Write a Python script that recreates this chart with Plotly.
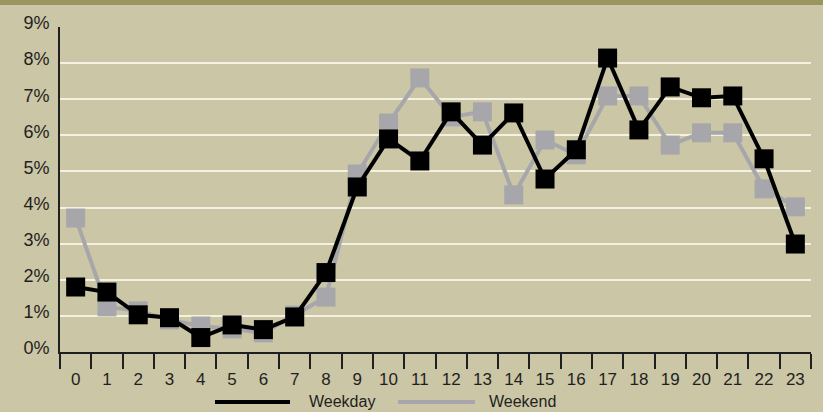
import plotly.graph_objects as go

hours = list(range(24))
hour_labels = [str(h) for h in hours]
weekday = [1.80, 1.66, 1.03, 0.95, 0.40, 0.75, 0.62, 0.97, 2.20, 4.57, 5.90, 5.29,
           6.65, 5.73, 6.62, 4.79, 5.60, 8.14, 6.15, 7.34, 7.04, 7.09, 5.35, 2.99]
weekend = [3.71, 1.25, 1.14, 0.89, 0.72, 0.64, 0.53, 1.02, 1.52, 4.93, 6.34, 7.59,
           6.51, 6.65, 4.35, 5.87, 5.46, 7.09, 7.09, 5.73, 6.07, 6.07, 4.52, 4.02]
y_ticks = list(range(10))

BG = '#cbc6a5'
GRAY = '#a7a7ab'
INK = '#1f1f1f'

# plot area in pixels: left 60, right 811, top 27, bottom 352
W, H = 823, 412
L, R, T, B = 60, 12, 27, 60
pw, ph = W - L - R, H - T - B


def px(x):
    return (x - L) / pw


def py(y):
    return (H - B - y) / ph


fig = go.Figure()

fig.add_trace(go.Scatter(x=hours, y=weekend, mode='lines+markers', name='Weekend',
                         line=dict(color=GRAY, width=4),
                         marker=dict(symbol='square', size=19, color=GRAY)))
fig.add_trace(go.Scatter(x=hours, y=weekday, mode='lines+markers', name='Weekday',
                         line=dict(color='black', width=4),
                         marker=dict(symbol='square', size=19, color='black')))

# olive band across the top
fig.add_shape(type='rect', xref='paper', yref='paper', x0=px(-5), x1=px(W + 5),
              y0=py(5), y1=py(-5), fillcolor='#9a955e', line_width=0, layer='below')

# legend drawn by hand (long line swatches)
for name, color, x0, x1, tx in [('Weekday', 'black', 215, 290, 307),
                                ('Weekend', GRAY, 398, 475, 487)]:
    fig.add_shape(type='line', xref='paper', yref='paper', x0=px(x0), x1=px(x1),
                  y0=py(402), y1=py(402), line=dict(color=color, width=4))
    fig.add_annotation(xref='paper', yref='paper', x=px(tx), y=py(402), text=name,
                       showarrow=False, xanchor='left', yanchor='middle',
                       font=dict(size=16, color=INK))

fig.update_layout(
    width=W, height=H,
    margin=dict(l=L, r=R, t=T, b=B, autoexpand=False),
    paper_bgcolor=BG, plot_bgcolor=BG,
    font=dict(family='Liberation Sans, Arial, sans-serif', color=INK),
    showlegend=False,
)

fig.update_xaxes(
    range=[-0.5, 23.5], tickvals=hours, ticktext=hour_labels,
    ticks='outside', ticklen=11, tickcolor='rgba(0,0,0,0)',
    tickfont=dict(size=17, color=INK), automargin=False,
    minor=dict(tickvals=[h - 0.5 for h in hours] + [23.5], ticks='outside',
               ticklen=15, tickcolor=INK, tickwidth=1.5, showgrid=False),
    showgrid=False, zeroline=False,
    showline=True, linecolor=INK, linewidth=1.5,
)
fig.update_yaxes(
    range=[0, 9], tickvals=y_ticks, ticktext=[f'{v}%' for v in y_ticks],
    ticks='outside', ticklen=5, tickcolor='rgba(0,0,0,0)', ticklabelshift=-4,
    tickfont=dict(size=18, color=INK), automargin=False,
    showgrid=True, gridcolor='#f4f1e2', gridwidth=1.5,
    zeroline=False, showline=True, linecolor=INK, linewidth=2,
)

fig.write_html("out.html", config={'displayModeBar': False},
               post_script="document.body.style.margin='0';document.body.style.overflow='hidden';")
